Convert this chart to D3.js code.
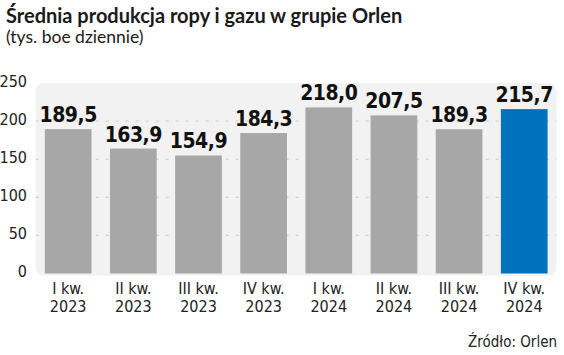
<!DOCTYPE html>
<html>
<head>
<meta charset="utf-8">
<script src="https://cdn.jsdelivr.net/npm/d3@7"></script>
<style>
  body { margin: 0; background: #fff; }
  svg { display: block; }
</style>
</head>
<body>
<svg class="chart"></svg>
<script>
// data
var quarters = ['I kw.', 'II kw.', 'III kw.', 'IV kw.', 'I kw.', 'II kw.', 'III kw.', 'IV kw.'];
var years = ['2023', '2023', '2023', '2023', '2024', '2024', '2024', '2024'];
var production = [189.5, 163.9, 154.9, 184.3, 218.0, 207.5, 189.3, 215.7];
var yTicks = [0, 50, 100, 150, 200, 250];

function show() {
    'use strict';

    var width = 564, height = 355;
    var svg = d3.select('.chart')
        .attr('width', width)
        .attr('height', height);

    var keys = d3.range(production.length);

    // plot area
    var left = 35.7, right = 556.7, top = 83, bottom = 273.5;

    var x = d3.scaleBand()
        .domain(keys)
        .range([left, right])
        .paddingInner(0.283)
        .paddingOuter(0.14);

    var y = d3.scaleLinear()
        .domain([0, 250])
        .range([bottom, top]);

    // light panel behind the bars
    svg.append('rect')
        .attr('x', left)
        .attr('y', y(250))
        .attr('width', right - left)
        .attr('height', bottom - y(250) + 2)
        .attr('rx', 8)
        .attr('fill', '#f2f2f2');

    // dashed gridlines
    svg.append('g')
        .selectAll('line')
        .data(yTicks.filter(function (d) { return d > 0 && d < 250; }))
        .enter()
        .append('line')
        .attr('x1', left)
        .attr('x2', right)
        .attr('y1', function (d) { return y(d); })
        .attr('y2', function (d) { return y(d); })
        .attr('stroke', '#c9c9c9')
        .attr('stroke-width', 1)
        .attr('stroke-dasharray', '3,7');

    // y axis labels
    var yAxis = d3.axisLeft(y).tickValues(yTicks).tickSize(0).tickPadding(0);
    var gy = svg.append('g')
        .attr('transform', 'translate(27,-2)')
        .call(yAxis);
    gy.select('.domain').remove();
    gy.selectAll('text')
        .attr('fill', '#222')
        .style('font-family', '"Liberation Sans Narrow", "DejaVu Sans Condensed", sans-serif')
        .style('font-size', '16px');

    // bars
    svg.append('g')
        .selectAll('rect')
        .data(keys)
        .enter()
        .append('rect')
        .attr('x', function (i) { return x(i); })
        .attr('y', function (i) { return y(production[i]); })
        .attr('width', x.bandwidth())
        .attr('height', function (i) { return bottom - y(production[i]); })
        .attr('fill', function (i) { return i === keys.length - 1 ? '#0071bc' : '#a7a7a7'; });

    // value labels
    svg.append('g')
        .selectAll('text')
        .data(keys)
        .enter()
        .append('text')
        .attr('x', function (i) { return x(i) + x.bandwidth() / 2; })
        .attr('y', function (i) { return y(production[i]) - 7; })
        .attr('text-anchor', 'middle')
        .attr('fill', '#111')
        .style('font-family', '"DejaVu Sans Condensed", sans-serif')
        .style('font-weight', 'bold')
        .style('font-size', '21px')
        .style('letter-spacing', '-0.5px')
        .text(function (i) { return d3.format('.1f')(production[i]).replace('.', ','); });

    // category labels, two lines each
    var xAxis = d3.axisBottom(x).tickSize(0).tickFormat(function () { return ''; });
    var gx = svg.append('g')
        .attr('transform', 'translate(0,' + bottom + ')')
        .call(xAxis);
    gx.select('.domain').remove();
    gx.selectAll('.tick text').remove();
    var lbl = gx.selectAll('.tick')
        .append('text')
        .attr('text-anchor', 'middle')
        .attr('fill', '#222')
        .style('font-family', '"Liberation Sans Narrow", "DejaVu Sans Condensed", sans-serif')
        .style('font-size', '16px');
    lbl.append('tspan').attr('x', 0).attr('y', 20.5).text(function (i) { return quarters[i]; });
    lbl.append('tspan').attr('x', 0).attr('y', 38.5).text(function (i) { return years[i]; });

    // title block
    svg.append('text')
        .attr('x', 6)
        .attr('y', 23)
        .attr('fill', '#1a1a1a')
        .style('font-family', 'Lato, "Open Sans", sans-serif')
        .style('font-weight', 'bold')
        .style('font-size', '20px')
        .text('Średnia produkcja ropy i gazu w grupie Orlen');

    svg.append('text')
        .attr('x', 6)
        .attr('y', 43)
        .attr('fill', '#1a1a1a')
        .style('font-family', 'Lato, "Open Sans", sans-serif')
        .style('font-weight', 'normal')
        .style('font-size', '17.5px')
        .text('(tys. boe dziennie)');

    svg.append('text')
        .attr('x', 557)
        .attr('y', 346.5)
        .attr('text-anchor', 'end')
        .attr('fill', '#222')
        .style('font-family', '"Liberation Sans Narrow", "DejaVu Sans Condensed", sans-serif')
        .style('font-size', '15px')
        .text('Źródło: Orlen');
}

show();
</script>
</body>
</html>
